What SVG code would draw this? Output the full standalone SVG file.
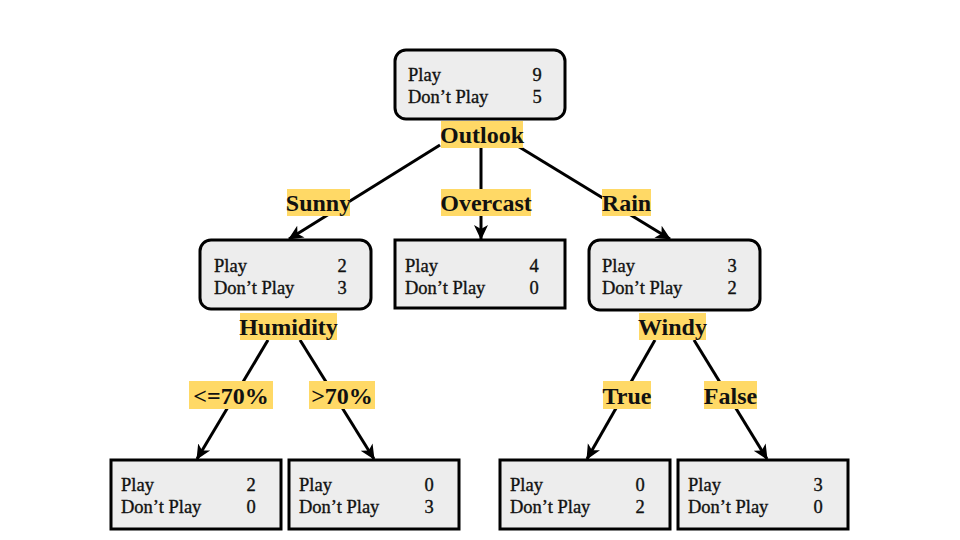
<svg xmlns="http://www.w3.org/2000/svg" width="960" height="540" viewBox="0 0 960 540">
<defs>
<style>
.box{fill:#EDEDED;stroke:#000;stroke-width:3}
.t{font-family:"Liberation Serif","Times New Roman",serif;font-size:18.5px;fill:#111;stroke:#111;stroke-width:0.35}
.n{font-family:"Liberation Serif","Times New Roman",serif;font-size:18.5px;fill:#111;stroke:#111;stroke-width:0.35;text-anchor:middle}
.lb{fill:#FFD966}
.lt{font-family:"Liberation Serif","Times New Roman",serif;font-size:24px;font-weight:bold;fill:#111;text-anchor:middle}
.c{stroke:#000;stroke-width:3;fill:none;marker-end:url(#ah)}
</style>
<marker id="ah" markerUnits="userSpaceOnUse" markerWidth="16" markerHeight="16" viewBox="0 0 16 16" refX="14" refY="8" orient="auto">
<path d="M0,1 L15,8 L0,15 L4,8 Z" fill="#000"/>
</marker>
</defs>
<rect width="960" height="540" fill="#fff"/>
<g id="connectors">
<line class="c" x1="440" y1="145" x2="289" y2="239"/>
<line class="c" x1="481" y1="148" x2="481" y2="239"/>
<line class="c" x1="516" y1="145" x2="670" y2="239"/>
<line class="c" x1="268" y1="340" x2="197" y2="459"/>
<line class="c" x1="300" y1="340" x2="374" y2="459"/>
<line class="c" x1="655" y1="340" x2="587" y2="459"/>
<line class="c" x1="694" y1="340" x2="767" y2="459"/>
</g>
<g id="root">
<rect class="box" x="395" y="50" width="170" height="69" rx="11"/>
<text class="t" x="408" y="81">Play</text>
<text class="t" x="408" y="103">Don’t Play</text>
<text class="n" x="537" y="81">9</text>
<text class="n" x="537" y="103">5</text>
</g>
<g id="sunny-node">
<rect class="box" x="200" y="240" width="171" height="69" rx="11"/>
<text class="t" x="214" y="272">Play</text>
<text class="t" x="214" y="294">Don’t Play</text>
<text class="n" x="342" y="272">2</text>
<text class="n" x="342" y="294">3</text>
</g>
<g id="overcast-node">
<rect class="box" x="395" y="240" width="170" height="68"/>
<text class="t" x="405" y="272">Play</text>
<text class="t" x="405" y="294">Don’t Play</text>
<text class="n" x="534" y="272">4</text>
<text class="n" x="534" y="294">0</text>
</g>
<g id="rain-node">
<rect class="box" x="589" y="240" width="171" height="70" rx="11"/>
<text class="t" x="602" y="272">Play</text>
<text class="t" x="602" y="294">Don’t Play</text>
<text class="n" x="732" y="272">3</text>
<text class="n" x="732" y="294">2</text>
</g>
<g id="leaf1">
<rect class="box" x="111" y="460" width="170" height="69"/>
<text class="t" x="121" y="491">Play</text>
<text class="t" x="121" y="513">Don’t Play</text>
<text class="n" x="251" y="491">2</text>
<text class="n" x="251" y="513">0</text>
</g>
<g id="leaf2">
<rect class="box" x="289" y="460" width="170" height="69"/>
<text class="t" x="299" y="491">Play</text>
<text class="t" x="299" y="513">Don’t Play</text>
<text class="n" x="429" y="491">0</text>
<text class="n" x="429" y="513">3</text>
</g>
<g id="leaf3">
<rect class="box" x="500" y="460" width="170" height="69"/>
<text class="t" x="510" y="491">Play</text>
<text class="t" x="510" y="513">Don’t Play</text>
<text class="n" x="640" y="491">0</text>
<text class="n" x="640" y="513">2</text>
</g>
<g id="leaf4">
<rect class="box" x="678" y="460" width="170" height="69"/>
<text class="t" x="688" y="491">Play</text>
<text class="t" x="688" y="513">Don’t Play</text>
<text class="n" x="818" y="491">3</text>
<text class="n" x="818" y="513">0</text>
</g>
<g id="labels">
<g id="lbl-outlook"><rect class="lb" x="441" y="121" width="82" height="27"/><text class="lt" x="482" y="143">Outlook</text></g>
<g id="lbl-sunny"><rect class="lb" x="287" y="189" width="63" height="27"/><text class="lt" x="318.5" y="211">Sunny</text></g>
<g id="lbl-overcast"><rect class="lb" x="441" y="189" width="90" height="27"/><text class="lt" x="486" y="211">Overcast</text></g>
<g id="lbl-rain"><rect class="lb" x="602" y="189" width="49" height="27"/><text class="lt" x="626.5" y="211">Rain</text></g>
<g id="lbl-humidity"><rect class="lb" x="240" y="313" width="97" height="27"/><text class="lt" x="288.5" y="335">Humidity</text></g>
<g id="lbl-windy"><rect class="lb" x="639" y="313" width="67" height="27"/><text class="lt" x="672.5" y="335">Windy</text></g>
<g id="lbl-le70"><rect class="lb" x="189" y="381" width="84" height="28"/><text class="lt" x="231" y="404">&lt;=70%</text></g>
<g id="lbl-gt70"><rect class="lb" x="309" y="381" width="66" height="28"/><text class="lt" x="342" y="404">&gt;70%</text></g>
<g id="lbl-true"><rect class="lb" x="603" y="381" width="48" height="28"/><text class="lt" x="627" y="404">True</text></g>
<g id="lbl-false"><rect class="lb" x="704" y="381" width="53" height="28"/><text class="lt" x="730.5" y="404">False</text></g>
</g>
</svg>
